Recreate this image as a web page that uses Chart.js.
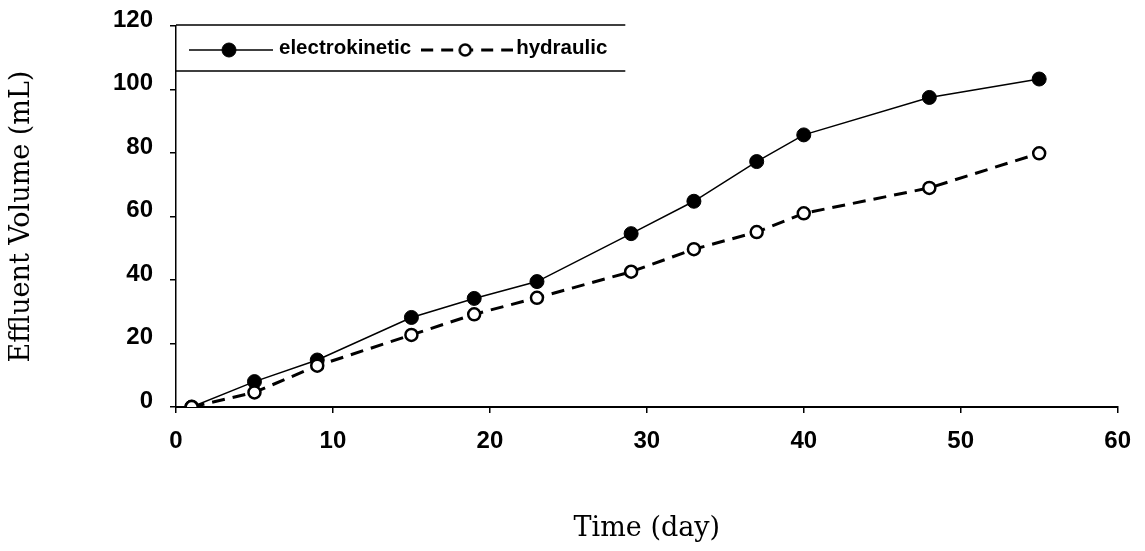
<!DOCTYPE html>
<html>
<head>
<meta charset="utf-8">
<title>Effluent Volume</title>
<script src="https://cdn.jsdelivr.net/npm/chart.js@4.4.1/dist/chart.umd.min.js"></script>
<style>
    html, body { margin: 0; padding: 0; background: #fff; }
    #wrap { width: 1145px; height: 551px; }
</style>
</head>
<body>
<div id="wrap"><canvas id="myChartEffluent" width="1145" height="551"></canvas></div>
<script>
// sampling days and cumulative effluent volume (mL)
const days = [1, 5, 9, 15, 19, 23, 29, 33, 37, 40, 48, 55];
const electrokinetic = [0, 8, 14.8, 28.2, 34.2, 39.5, 54.6, 64.8, 77.3, 85.7, 97.5, 103.3];
const hydraulic = [0, 4.6, 13, 22.7, 29.2, 34.4, 42.6, 49.7, 55.1, 61, 69, 79.9];
const seriesNames = ['electrokinetic', 'hydraulic'];
const xTicks = [0, 10, 20, 30, 40, 50, 60];
const yTicks = [0, 20, 40, 60, 80, 100, 120];

const tickFont = { family: 'Liberation Sans', size: 24, weight: 'bold' };
const titleFont = { family: 'DejaVu Serif', size: 27 };

// line + marker sample used as the legend symbol
function legendSample(width, dashed, filled) {
    const c = document.createElement('canvas');
    c.width = width;
    c.height = 18;
    const g = c.getContext('2d');
    g.strokeStyle = '#000';
    g.lineWidth = dashed ? 3 : 1.5;
    g.setLineDash(dashed ? [12, 8] : []);
    g.beginPath();
    g.moveTo(0, 9);
    g.lineTo(width, 9);
    g.stroke();
    g.setLineDash([]);
    g.beginPath();
    g.arc(width / 2 - 2, 9, filled ? 7 : 5.5, 0, Math.PI * 2);
    g.fillStyle = filled ? '#000' : '#fff';
    g.fill();
    g.lineWidth = filled ? 1 : 2.5;
    g.stroke();
    return c;
}
const samples = [legendSample(84, false, true), legendSample(92, true, false)];

// one-row legend sitting in the top-left corner of the plot, with its frame
const inlineLegend = {
    id: 'inlineLegend',
    afterDraw(chart) {
        const area = chart.chartArea;
        const ctx = chart.ctx;
        const gaps = [6, 3];
        const boxH = 45;
        const midY = area.top + 24;
        ctx.save();
        ctx.font = 'bold 20.5px "Liberation Sans"';
        ctx.fillStyle = '#000';
        ctx.textBaseline = 'middle';
        let x = area.left + 13;
        chart.data.datasets.forEach((ds, i) => {
            const img = samples[i];
            ctx.drawImage(img, x, midY - img.height / 2);
            x += img.width + gaps[i];
            ctx.fillText(ds.label, x, midY - 2);
            x += ctx.measureText(ds.label).width + 10;
        });
        x += 8;
        ctx.strokeStyle = '#000';
        ctx.lineWidth = 1.5;
        ctx.beginPath();
        ctx.moveTo(area.left, area.top - 1);
        ctx.lineTo(x, area.top - 1);
        ctx.moveTo(area.left, area.top + boxH);
        ctx.lineTo(x, area.top + boxH);
        ctx.stroke();
        ctx.restore();
    }
};

const toPoints = (vals) => vals.map((v, i) => ({ x: days[i], y: v }));

const ctx = document.getElementById('myChartEffluent').getContext('2d');
const chart = new Chart(ctx, {
    type: 'line',
    data: {
        datasets: [{
            label: seriesNames[0],
            data: toPoints(electrokinetic),
            borderColor: '#000',
            borderWidth: 1.5,
            pointRadius: 7,
            pointBackgroundColor: '#000',
            pointBorderColor: '#000',
            pointBorderWidth: 1,
            tension: 0,
            order: 1
        }, {
            label: seriesNames[1],
            data: toPoints(hydraulic),
            borderColor: '#000',
            borderWidth: 3,
            borderDash: [13, 8],
            pointRadius: 6,
            pointBackgroundColor: '#fff',
            pointBorderColor: '#000',
            pointBorderWidth: 2.5,
            tension: 0,
            order: 0
        }]
    },
    options: {
        responsive: false,
        animation: false,
        layout: { padding: { top: 26, right: 25, bottom: 0, left: 0 } },
        plugins: {
            tooltip: { enabled: false },
            legend: { display: false }
        },
        scales: {
            x: {
                type: 'linear',
                min: xTicks[0],
                max: xTicks[xTicks.length - 1],
                ticks: { stepSize: xTicks[1] - xTicks[0], color: '#000', font: tickFont, padding: 14 },
                grid: { drawOnChartArea: false, drawTicks: true, tickLength: 6, color: '#000', lineWidth: 1.5 },
                border: { display: true, color: '#000', width: 2 },
                title: { display: true, text: 'Time (day)', color: '#000', font: titleFont, padding: { top: 0, bottom: 6 } },
                afterFit(scale) { scale.height = 144; }
            },
            y: {
                min: yTicks[0],
                max: yTicks[yTicks.length - 1],
                ticks: { stepSize: yTicks[1] - yTicks[0], color: '#000', font: tickFont, padding: 17, labelOffset: -6 },
                grid: { drawOnChartArea: false, drawTicks: true, tickLength: 6, color: '#000', lineWidth: 1.5 },
                border: { display: true, color: '#000', width: 1.5, dash: [10, 3] },
                title: { display: true, text: 'Effluent Volume (mL)', color: '#000', font: titleFont, padding: { top: 6, bottom: 0 } },
                afterFit(scale) {
                    scale.width = 176;
                    scale.paddingTop = 0;
                    scale.paddingBottom = 0;
                }
            }
        }
    },
    plugins: [inlineLegend]
});
</script>
</body>
</html>
